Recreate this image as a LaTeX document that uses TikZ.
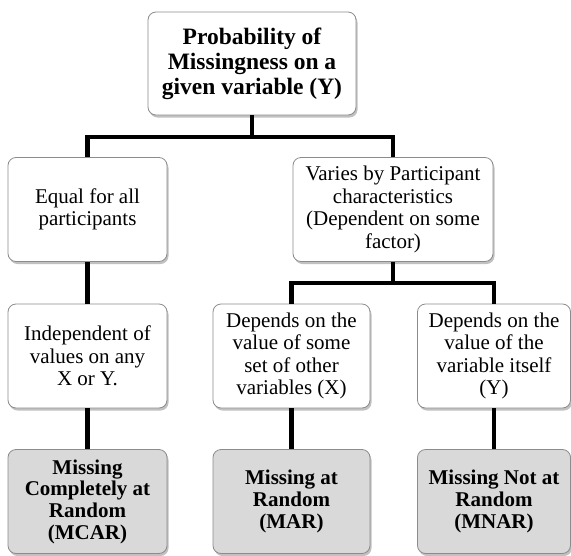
\documentclass[tikz,border=0pt]{standalone}
\usepackage{fontspec}
\setmainfont{Liberation Serif}
\usetikzlibrary{shadows}
\definecolor{boxline}{HTML}{8C8C8C}
\definecolor{leaffill}{HTML}{D9D9D9}
\tikzset{
  box/.style={draw=boxline, line width=0.8pt, rounded corners=8pt, fill=white,
    align=center, inner sep=0pt, minimum width=159pt, minimum height=104pt,
    font=\fontsize{21}{22.5}\selectfont,
    drop shadow={shadow xshift=1.5pt, shadow yshift=-2.5pt, opacity=0.35, fill=black!70}},
  rootbox/.style={box, minimum width=208pt, minimum height=103pt,
    font=\fontsize{23.5}{25}\selectfont\bfseries},
  leafbox/.style={box, fill=leaffill, font=\fontsize{21}{21.7}\selectfont\bfseries},
  conn/.style={line width=4.8pt, line join=miter, line cap=butt}
}
\begin{document}
\begin{tikzpicture}[x=1pt, y=-1pt]
\useasboundingbox (0,0) rectangle (571,555);
\node[rootbox] (top) at (252,63.5) {Probability of\\Missingness on a\\given variable (Y)};
\node[box] (eq) at (87.5,209.5) {Equal for all\\participants};
\node[box, minimum width=200pt] (var) at (393,209.5) {Varies by Participant\\characteristics\\(Dependent on some\\factor)};
\node[box] (ind) at (87.5,356) {Independent of\\values on any\\X or Y.};
\node[box, minimum width=157pt] (dx) at (291.5,356) {Depends on the\\value of some\\set of other\\variables (X)};
\node[box, minimum width=153pt] (dy) at (494,356) {Depends on the\\value of the\\variable itself\\(Y)};
\node[leafbox] (mcar) at (87.5,501.5) {Missing\\Completely at\\Random\\(MCAR)};
\node[leafbox, minimum width=157pt] (mar) at (291.5,501.5) {Missing at\\Random\\(MAR)};
\node[leafbox, minimum width=153pt] (mnar) at (494,501.5) {Missing Not at\\Random\\(MNAR)};
\coordinate (j1) at (252,137);
\coordinate (j2) at (393,283);
\begin{scope}[on background layer/.try]
\end{scope}
\draw[conn] (top.south) -- (j1);
\draw[conn] (eq.north) |- (j1) -| (var.north);
\draw[conn] (var.south) -- (j2);
\draw[conn] (dx.north) |- (j2) -| (dy.north);
\draw[conn] (eq.south) -- (ind.north);
\draw[conn] (ind.south) -- (mcar.north);
\draw[conn] (dx.south) -- (mar.north);
\draw[conn] (dy.south) -- (mnar.north);
\end{tikzpicture}
\end{document}
